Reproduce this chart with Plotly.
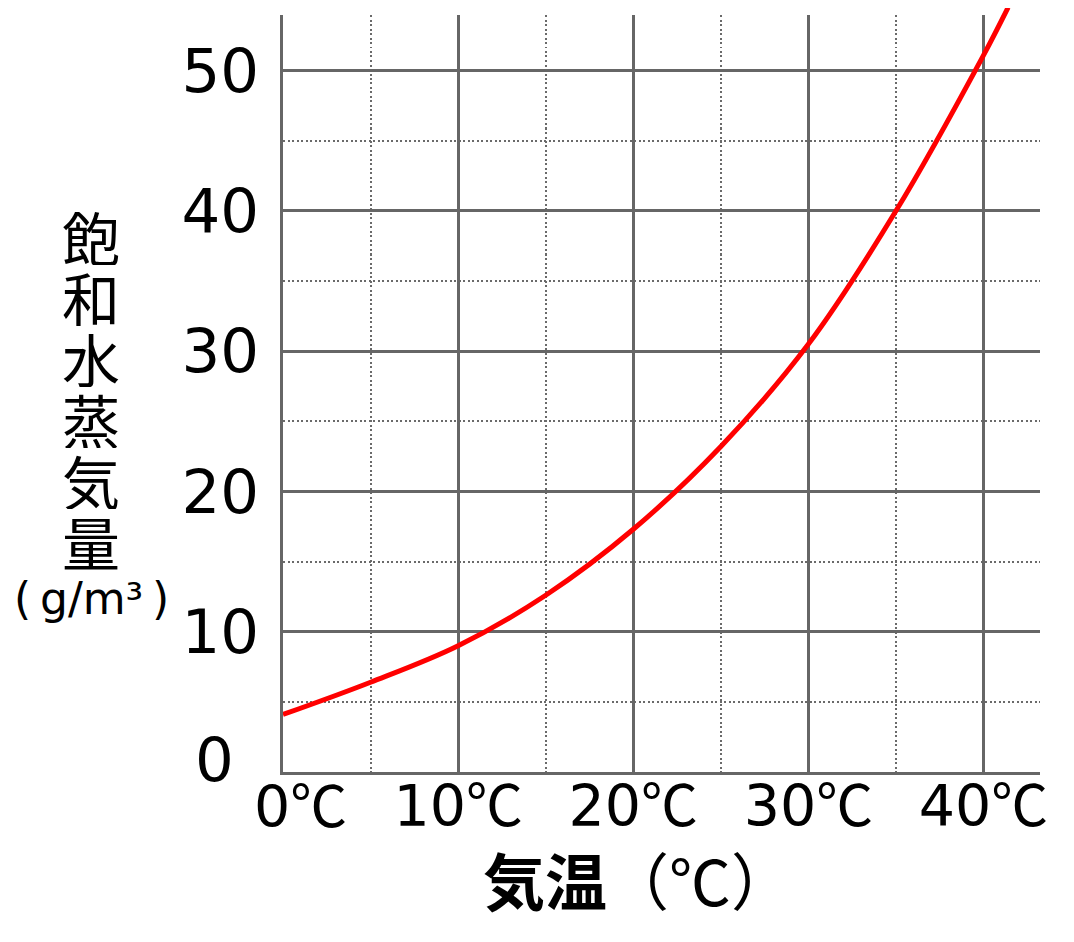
import plotly.graph_objects as go

# ---- data ----
temps = [0, 5, 10, 15, 20, 25, 30, 35, 40, 41.4]
vapor = [4.1, 6.4, 9.0, 12.6, 17.3, 23.2, 30.5, 40.0, 51.1, 54.5]
x_ticks = [10, 20, 30, 40]
x_tick_labels = ["10", "20", "30", "40"]
x_origin_label = "0"
x_tick_unit = "℃"
y_ticks = [10, 20, 30, 40, 50]
y_tick_labels = ["10", "20", "30", "40", "50"]
y_origin_label = "0"
y_title_chars = ["飽", "和", "水", "蒸", "気", "量"]
y_unit = "(\u2009g/m³\u2009)"
x_title_main = "気温"
x_title_unit = "（℃）"

# ---- layout geometry (reference pixel coordinates) ----
OFF = 8  # page body margin
W, H = 1058, 926
plot_left, plot_right = 283, 1040
plot_bottom, plot_top = 772, 8
grid_top = 15
L = plot_left - OFF
R = W - (plot_right - OFF)
T = plot_top - OFF
B = H - (plot_bottom - OFF)
plot_w = W - L - R
plot_h = H - T - B
px_per_x = 17.515
px_per_y = 14.03
x_max = plot_w / px_per_x
y2_max = plot_h / px_per_y
grid_h = plot_bottom - grid_top
main_dom_top = grid_h / plot_h
y_max = grid_h / px_per_y


def paper_x(px):
    return (px - OFF - L) / plot_w


def paper_y(py):
    return (plot_bottom - py) / plot_h


major_color = "#666666"
minor_color = "#6a6a6a"
tick_font = dict(family="DejaVu Sans", size=57, color="black")
ytick_font = dict(family="DejaVu Sans", size=61, color="black")
cjk = "Noto Sans CJK JP"


def with_unit(t):
    return f"{t}<span style='font-family:{cjk}'>{x_tick_unit}</span>"


x_ticktext = [with_unit(t) for t in x_tick_labels]

fig = go.Figure()
# empty trace so the grid subplot (x, y) is created
fig.add_trace(go.Scatter(x=[], y=[], mode="lines", xaxis="x", yaxis="y",
                         hoverinfo="skip", showlegend=False))
fig.add_trace(go.Scatter(
    x=temps, y=vapor, mode="lines", line=dict(color="#ff0000", width=5, shape="spline"),
    xaxis="x2", yaxis="y2", hoverinfo="skip", showlegend=False,
))

annotations = []
# origin labels (offset from the origin as in the reference)
annotations.append(dict(
    text=with_unit(x_origin_label), xref="x", yref="paper", x=0, y=paper_y(802),
    xanchor="center", yanchor="middle", xshift=17, showarrow=False, font=tick_font,
))
annotations.append(dict(
    text=y_origin_label, xref="paper", yref="y", x=paper_x(236), y=0,
    xanchor="right", yanchor="middle", yshift=13, showarrow=False, font=ytick_font,
))
for i, ch in enumerate(y_title_chars):
    annotations.append(dict(
        text=ch, xref="paper", yref="paper", x=paper_x(91), y=paper_y(236 + 61 * i),
        xanchor="center", yanchor="middle", showarrow=False, height=58,
        font=dict(family=cjk, size=58, color="black"),
    ))
annotations.append(dict(
    text=y_unit, xref="paper", yref="paper", x=paper_x(91), y=paper_y(598),
    xanchor="center", yanchor="middle", showarrow=False,
    font=dict(family="DejaVu Sans", size=44, color="black"),
))
annotations.append(dict(
    text=f"<b>{x_title_main}</b>{x_title_unit}",
    xref="paper", yref="paper", x=paper_x(638), y=paper_y(879),
    xanchor="center", yanchor="middle", showarrow=False,
    font=dict(family=cjk, size=62, color="black"),
))

fig.update_layout(
    width=W, height=H,
    margin=dict(l=L, r=R, t=T, b=B, pad=0),
    paper_bgcolor="white", plot_bgcolor="rgba(0,0,0,0)",
    showlegend=False,
    xaxis=dict(
        domain=[0, 1], anchor="y", range=[0, x_max],
        tickmode="array", tickvals=x_ticks, ticktext=x_ticktext,
        tickfont=tick_font, ticks="", ticklabelstandoff=-17,
        showgrid=True, gridcolor=major_color, gridwidth=2.5,
        minor=dict(tick0=0, dtick=5, showgrid=True, gridcolor=minor_color,
                   gridwidth=2, griddash="2px,2.5px", ticks=""),
        showline=True, linecolor=major_color, linewidth=2.5,
        zeroline=False, fixedrange=True,
    ),
    yaxis=dict(
        domain=[0, main_dom_top], anchor="x", range=[0, y_max],
        tickmode="array", tickvals=y_ticks, ticktext=y_tick_labels,
        tickfont=ytick_font, ticks="", ticklabelstandoff=9,
        showgrid=True, gridcolor=major_color, gridwidth=2.5,
        minor=dict(tick0=0, dtick=5, showgrid=True, gridcolor=minor_color,
                   gridwidth=2, griddash="2px,2.5px", ticks=""),
        showline=True, linecolor=major_color, linewidth=2.5,
        zeroline=False, fixedrange=True,
    ),
    xaxis2=dict(domain=[0, 1], anchor="y2", range=[0, x_max], visible=False,
                showgrid=False, zeroline=False, fixedrange=True),
    yaxis2=dict(domain=[0, 1], anchor="x2", range=[0, y2_max], visible=False,
                showgrid=False, zeroline=False, fixedrange=True),
    annotations=annotations,
)

fig.write_html("out.html")
